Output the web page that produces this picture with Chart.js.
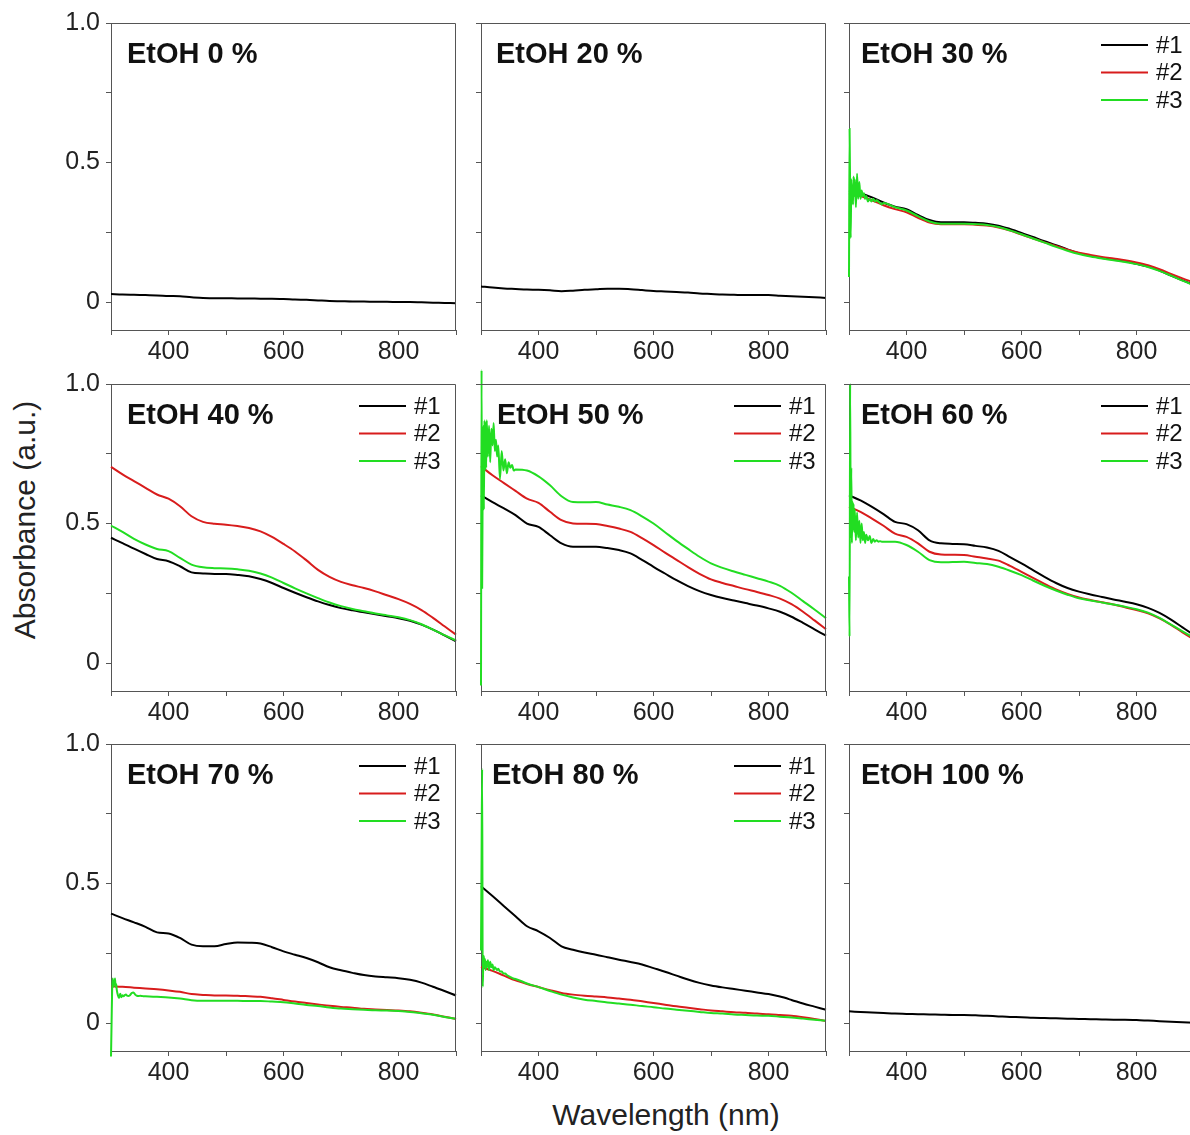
<!DOCTYPE html>
<html>
<head>
<meta charset="utf-8">
<script src="https://cdn.jsdelivr.net/npm/chart.js@4.4.1/dist/chart.umd.min.js"></script>
<style>
  html, body { margin: 0; padding: 0; background: #fff; overflow: hidden; }
  #page { position: relative; width: 1190px; height: 1135px; overflow: hidden; font-family: 'Liberation Sans', Arial, sans-serif; }
  canvas { position: absolute; }
  .axis-title { position: absolute; font-size: 30px; color: #222; white-space: nowrap; }
  #ytitle { left: 25px; top: 520px; transform: translate(-50%, -50%) rotate(-90deg); }
  #xtitle { left: 666px; top: 1115px; transform: translate(-50%, -50%); }
</style>
</head>
<body>
<div id="page">
  <div class="axis-title" id="ytitle">Absorbance (a.u.)</div>
  <div class="axis-title" id="xtitle">Wavelength (nm)</div>
</div>
<script>
// wavelength grid (nm) for the smooth part of every spectrum
const wl = [300, 320, 340, 360, 380, 400, 420, 440, 460, 480, 500, 520, 540, 560, 580, 600,
            620, 640, 660, 680, 700, 720, 740, 760, 780, 800, 820, 840, 860, 880, 900];
// finer grid for the noisy start of the #3 spectra
const headWl = [300, 301, 302, 303, 304, 305, 306, 307, 308, 309, 310, 312, 314, 316, 318, 320,
                322, 324, 326, 328, 330, 333, 336, 339, 342, 345, 348, 351, 354, 357];

const sampleLabels = ['#1', '#2', '#3'];
const panelTitles = ['EtOH 0 %', 'EtOH 20 %', 'EtOH 30 %', 'EtOH 40 %', 'EtOH 50 %',
                     'EtOH 60 %', 'EtOH 70 %', 'EtOH 80 %', 'EtOH 100 %'];
const xTickLabels = [400, 600, 800];
const yTickLabels = ['0', '0.5', '1.0'];

// EtOH 0 %
const e0_1 = [.029, .027, .026, .025, .024, .022, .021, .017, .015, .014, .014, .013, .013, .012, .012, .011,
              .009, .008, .006, .004, .003, .002, .002, .001, .001, .000, .000, -.001, -.002, -.003, -.004];
// EtOH 20 %
const e20_1 = [.056, .052, .049, .047, .045, .044, .042, .039, .041, .044, .046, .048, .048, .046, .043, .040,
               .038, .036, .034, .031, .029, .027, .026, .025, .025, .025, .023, .021, .019, .017, .015];
// EtOH 30 %
const e30_1 = [.400, .390, .375, .357, .342, .333, .312, .294, .286, .286, .286, .284, .281, .274, .262, .248,
               .233, .218, .204, .189, .175, .166, .158, .152, .146, .137, .127, .113, .095, .078, .062];
const e30_2 = [.390, .380, .365, .347, .333, .322, .302, .285, .279, .279, .279, .277, .274, .267, .256, .242,
               .228, .214, .201, .188, .177, .169, .162, .156, .150, .142, .132, .118, .101, .085, .070];
const e30_3 = [null, null, null, .355, .340, .328, .308, .289, .281, .281, .281, .279, .276, .269, .257, .243,
               .228, .213, .198, .184, .172, .163, .156, .150, .144, .136, .126, .112, .095, .077, .060];
const e30_3head = [.09, .62, .38, .23, .44, .36, .41, .35, .45, .38, .44, .34, .46, .37, .43, .37,
                   .40, .38, .39, .37, .38, .36, .37, .36, .37, .36, .365, .36, .355, .35];
// EtOH 40 %
const e40_1 = [.449, .430, .410, .391, .373, .365, .347, .325, .321, .319, .319, .316, .311, .301, .287, .269,
               .252, .236, .221, .208, .197, .189, .182, .175, .168, .161, .152, .138, .120, .099, .078];
const e40_2 = [.703, .676, .652, .628, .604, .589, .562, .526, .506, .499, .496, .491, .484, .472, .452, .427,
               .400, .368, .334, .309, .291, .279, .269, .257, .243, .229, .212, .190, .162, .132, .102];
const e40_3 = [.493, .470, .445, .425, .409, .401, .377, .353, .343, .340, .339, .336, .331, .321, .306, .287,
               .268, .250, .233, .217, .204, .194, .186, .178, .171, .164, .154, .139, .120, .100, .081];
// EtOH 50 %
const e50_1 = [.601, .577, .554, .530, .500, .488, .458, .429, .417, .417, .417, .412, .405, .393, .370, .345,
               .321, .297, .276, .258, .244, .233, .224, .215, .206, .196, .184, .166, .144, .121, .098];
const e50_2 = [.705, .673, .645, .617, .589, .574, .542, .512, .500, .499, .498, .491, .482, .470, .448, .423,
               .396, .370, .344, .320, .300, .287, .276, .265, .255, .244, .231, .211, .184, .153, .121];
const e50_3 = [null, null, null, .694, .690, .669, .637, .598, .577, .576, .577, .568, .560, .548, .526, .500,
               .469, .438, .409, .381, .357, .341, .328, .316, .304, .292, .277, .252, .222, .192, .161];
const e50_3head = [-.08, 1.05, .27, .71, .85, .55, .87, .69, .86, .70, .87, .74, .85, .72, .84, .78,
                   .86, .76, .80, .74, .78, .66, .76, .69, .73, .68, .72, .70, .71, .69];
// EtOH 60 %
const e60_1 = [.601, .583, .560, .534, .506, .498, .476, .440, .429, .427, .426, .420, .414, .402, .380, .357,
               .333, .309, .287, .269, .256, .246, .237, .228, .220, .211, .198, .180, .156, .128, .100];
const e60_2 = [.560, .542, .518, .492, .464, .452, .429, .399, .389, .388, .387, .381, .375, .367, .348, .327,
               .305, .284, .264, .248, .235, .226, .218, .210, .200, .190, .178, .160, .137, .110, .085];
const e60_3 = [null, null, null, .435, .435, .423, .399, .369, .361, .362, .363, .359, .355, .345, .331, .315,
               .296, .277, .260, .245, .232, .224, .217, .210, .202, .193, .181, .162, .138, .114, .090];
const e60_3head = [.31, .095, 1.0, .45, .70, .43, .58, .48, .57, .47, .55, .44, .54, .45, .51, .43,
                   .50, .44, .47, .43, .46, .44, .455, .43, .445, .435, .44, .435, .437, .435];
// EtOH 70 %
const e70_1 = [.392, .376, .361, .345, .325, .321, .305, .281, .275, .275, .283, .289, .288, .285, .272, .257,
               .245, .233, .218, .200, .189, .180, .172, .167, .164, .161, .155, .145, .130, .115, .099];
const e70_2 = [.132, .130, .127, .124, .121, .117, .112, .104, .101, .099, .099, .098, .096, .094, .089, .083,
               .077, .072, .067, .062, .058, .055, .051, .049, .047, .045, .042, .037, .031, .023, .015];
const e70_3 = [null, null, null, .096, .094, .092, .088, .082, .080, .080, .080, .080, .079, .079, .077, .075,
               .070, .065, .061, .056, .052, .050, .048, .046, .045, .043, .040, .035, .030, .022, .015];
const e70_3head = [-.12, .00, .12, .16, .13, .15, .14, .16, .13, .14, .12, .10, .09, .105, .093, .10,
                   .096, .10, .102, .098, .097, .10, .108, .11, .102, .098, .097, .098, .097, .096];
// EtOH 80 %
const e80_1 = [.490, .455, .419, .383, .347, .329, .305, .275, .263, .253, .245, .236, .227, .219, .210, .197,
               .184, .170, .156, .144, .135, .128, .122, .116, .110, .104, .095, .083, .070, .059, .048];
const e80_2 = [.201, .187, .170, .153, .140, .129, .118, .108, .102, .098, .095, .092, .088, .084, .078, .072,
               .066, .060, .055, .050, .045, .042, .039, .037, .034, .032, .029, .026, .021, .015, .008];
const e80_3 = [null, null, null, .158, .142, .129, .115, .102, .092, .084, .079, .074, .070, .066, .061, .057,
               .052, .048, .044, .040, .036, .034, .031, .029, .027, .026, .023, .020, .016, .012, .008];
const e80_3head = [.26, .60, .91, .13, .22, .24, .20, .23, .19, .22, .20, .225, .19, .22, .20, .21,
                   .19, .20, .195, .19, .195, .185, .185, .178, .178, .172, .168, .165, .162, .159];
// EtOH 100 %
const e100_1 = [.042, .040, .038, .036, .034, .033, .032, .031, .030, .029, .029, .028, .026, .024, .022, .021,
                .019, .018, .017, .016, .015, .014, .013, .012, .012, .011, .009, .007, .005, .003, .001];

const colors = ['#000000', '#d81c1c', '#22dd22'];

// plot box geometry of the 3x3 grid
const colLeft = [111, 481, 849];
const rowTop = [23, 384, 744];
const plotW = 345, plotH = 307;
const padL = 70, padT = 22, padR = 10, padB = 45;

const panels = [
    { title: 0, series: [[e0_1]], titleX: 16 },
    { title: 1, series: [[e20_1]], titleX: 15 },
    { title: 2, series: [[e30_1], [e30_2], [e30_3, e30_3head]], titleX: 12, legendX: 252 },
    { title: 3, series: [[e40_1], [e40_2], [e40_3]], titleX: 16, legendX: 248 },
    { title: 4, series: [[e50_1], [e50_2], [e50_3, e50_3head]], titleX: 16, legendX: 253 },
    { title: 5, series: [[e60_1], [e60_2], [e60_3, e60_3head]], titleX: 12, legendX: 252 },
    { title: 6, series: [[e70_1], [e70_2], [e70_3, e70_3head]], titleX: 16, legendX: 248 },
    { title: 7, series: [[e80_1], [e80_2], [e80_3, e80_3head]], titleX: 11, legendX: 253 },
    { title: 8, series: [[e100_1]], titleX: 12 },
];

const fontFamily = "'Liberation Sans', Arial, sans-serif";

function toPoints(vals, head) {
    const pts = [];
    if (head) {
        headWl.forEach((x, i) => pts.push({ x: x, y: head[i] }));
    }
    wl.forEach((x, i) => {
        if (vals[i] !== null && (!head || x > headWl[headWl.length - 1])) {
            pts.push({ x: x, y: vals[i] });
        }
    });
    return pts;
}

// box around the plot area + panel label + line legend
const panelDecor = {
    id: 'panelDecor',
    afterDraw(chart, args, opts) {
        const { ctx, chartArea: a } = chart;
        ctx.save();
        ctx.strokeStyle = '#555';
        ctx.lineWidth = 1;
        ctx.beginPath();
        const top = Math.round(a.top) + 0.5;
        const right = Math.round(a.right) - 0.5;
        ctx.moveTo(a.left, top);
        ctx.lineTo(right, top);
        ctx.lineTo(right, a.bottom);
        ctx.stroke();

        ctx.fillStyle = '#111';
        ctx.font = 'bold 29px ' + fontFamily;
        ctx.textBaseline = 'alphabetic';
        ctx.fillText(opts.title, a.left + opts.titleX, a.top + 40);

        const ds = chart.data.datasets;
        if (ds.length > 1) {
            ctx.font = '24px ' + fontFamily;
            ctx.textBaseline = 'middle';
            ds.forEach((d, i) => {
                const y = a.top + 22 + i * 27.5;
                ctx.strokeStyle = d.borderColor;
                ctx.lineWidth = 2;
                ctx.beginPath();
                ctx.moveTo(a.left + opts.legendX, y);
                ctx.lineTo(a.left + opts.legendX + 47, y);
                ctx.stroke();
                ctx.fillStyle = '#111';
                ctx.fillText(d.label, a.left + opts.legendX + 55, y + 1);
            });
        }
        ctx.restore();
    }
};

const page = document.getElementById('page');

panels.forEach((p, n) => {
    const row = Math.floor(n / 3), col = n % 3;
    const canvas = document.createElement('canvas');
    const w = padL + plotW + padR, h = padT + plotH + padB;
    canvas.width = w;
    canvas.height = h;
    canvas.style.left = (colLeft[col] - padL) + 'px';
    canvas.style.top = (rowTop[row] - padT) + 'px';
    page.appendChild(canvas);

    const datasets = p.series.map((s, i) => ({
        label: sampleLabels[i],
        data: toPoints(s[0], s[1]),
        borderColor: colors[i],
        borderWidth: 2,
        pointRadius: 0,
        fill: false,
        cubicInterpolationMode: 'monotone',
        clip: false,
        order: p.series.length - i,
    }));

    new Chart(canvas, {
        type: 'line',
        data: { datasets: datasets },
        options: {
            responsive: false,
            animation: false,
            devicePixelRatio: 1,
            layout: { padding: { top: padT, right: padR, left: 0, bottom: 0 } },
            plugins: {
                legend: { display: false },
                tooltip: { enabled: false },
                panelDecor: { title: panelTitles[p.title], titleX: p.titleX, legendX: p.legendX || 250 },
            },
            scales: {
                x: {
                    type: 'linear',
                    min: 300,
                    max: 900,
                    afterFit(scale) { scale.height = padB; },
                    afterBuildTicks(scale) {
                        scale.ticks = [300, 400, 500, 600, 700, 800, 900].map(v => ({ value: v }));
                    },
                    grid: { drawOnChartArea: false, drawTicks: true, tickLength: 5, color: '#555' },
                    border: { display: true, color: '#555' },
                    ticks: {
                        autoSkip: false,
                        maxRotation: 0,
                        padding: 2,
                        color: '#222',
                        font: { family: fontFamily, size: 25 },
                        callback: v => xTickLabels.includes(v) ? String(v) : '',
                    },
                },
                y: {
                    type: 'linear',
                    min: -0.1,
                    max: 1.0,
                    afterFit(scale) { scale.width = padL; },
                    afterBuildTicks(scale) {
                        scale.ticks = [0, 0.25, 0.5, 0.75, 1.0].map(v => ({ value: v }));
                    },
                    grid: { drawOnChartArea: false, drawTicks: true, tickLength: 5, color: '#555' },
                    border: { display: true, color: '#555' },
                    ticks: {
                        autoSkip: false,
                        padding: 6,
                        color: '#222',
                        font: { family: fontFamily, size: 25 },
                        callback: v => {
                            if (col !== 0) return '';
                            const label = v === 0 ? '0' : v.toFixed(1);
                            return yTickLabels.includes(label) ? label : '';
                        },
                    },
                },
            },
        },
        plugins: [panelDecor],
    });
});
</script>
</body>
</html>
